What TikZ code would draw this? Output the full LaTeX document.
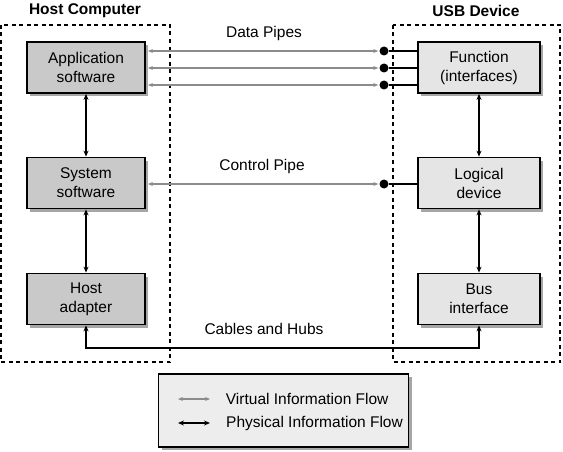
\documentclass[tikz,border=0pt]{standalone}
\usepackage{fontspec}
\setmainfont{Liberation Sans}
\usetikzlibrary{arrows.meta,calc,positioning,shadows}

\begin{document}
\begin{tikzpicture}[x=1pt,y=-1pt,
  every node/.style={font=\fontsize{15.5}{19}\selectfont},
  box/.style={draw,line width=1.8pt,minimum width=118pt,minimum height=51pt,align=center,
    drop shadow={shadow xshift=3pt,shadow yshift=-3pt,fill=black!35,opacity=1}},
  hostbox/.style={box,fill=black!21},
  devbox/.style={box,fill=black!10},
  dot/.style={circle,fill,inner sep=0pt,minimum size=9pt},
  virt/.style={{Stealth[length=5pt,width=4pt]}-{Stealth[length=5pt,width=4pt]},line width=1.2pt,black!45},
  phys/.style={{Stealth[length=6pt,width=5pt]}-{Stealth[length=6pt,width=5pt]},line width=1.8pt},
  region/.style={dash pattern=on 4pt off 3.5pt,line width=2.2pt}]
\useasboundingbox (0,0) rectangle (563,452);

% Host and device outlines
\draw[region] (1,25) rectangle (170,362);
\draw[region] (393,25) rectangle (560,362);
\node[font=\fontsize{15.5}{19}\selectfont\bfseries] (hosttitle) at (85,11) {Host Computer};
\node[font=\fontsize{15.5}{19}\selectfont\bfseries] (devtitle) at (476,11) {USB Device};

% Host side
\node[hostbox] (app) at (86,67.5) {Application\\software};
\node[hostbox] (sys) at (86,183) {System\\software};
\node[hostbox] (hostad) at (86,299) {Host\\adapter};

% Device side
\node[devbox,minimum width=122pt] (func) at (479,67.5) {Function\\(interfaces)};
\node[devbox,minimum width=122pt] (logdev) at (479,183) {Logical\\device};
\node[devbox,minimum width=122pt] (busif) at (479,299) {Bus\\interface};

\draw[phys] (app) -- (sys);
\draw[phys] (sys) -- (hostad);
\draw[phys] (func) -- (logdev);
\draw[phys] (logdev) -- (busif);

% Data pipes
\node (datalbl) at (264,33) {Data Pipes};
\foreach \i/\y in {1/51,2/68,3/85}{
  \node[dot] (d\i) at (384,\y) {};
  \draw[virt] ([xshift=2pt]app.east |- d\i) -- ([xshift=-1pt]d\i.west);
  \draw[line width=1.8pt] (d\i) -- (func.west |- d\i);
}

% Control pipe
\node (ctrllbl) at (262,166) {Control Pipe};
\node[dot] (dc) at (384,184) {};
\draw[virt] ([xshift=2pt]sys.east |- dc) -- ([xshift=-1pt]dc.west);
\draw[line width=1.8pt] (dc) -- (logdev.west |- dc);

% Cables
\node (cablbl) at (264,329) {Cables and Hubs};
\coordinate (cab) at (0,348);
\draw[phys] (hostad.south) -- (hostad.south |- cab) -- (busif.south |- cab) -- (busif.south);

% Legend
\node[draw,line width=1.8pt,fill=black!7,minimum width=250pt,minimum height=73pt,
  drop shadow={shadow xshift=3pt,shadow yshift=-3pt,fill=black!35,opacity=1}] (legend) at (283.5,410.5) {};
\coordinate (lv) at (178,399);
\coordinate (lp) at (178,423);
\draw[virt] (lv) -- ++(32,0) node[right=12pt,black,anchor=west] (vlbl) {Virtual Information Flow};
\draw[phys] (lp) -- ++(32,0) node[right=12pt,anchor=west] (plbl) {Physical Information Flow};
\end{tikzpicture}
\end{document}
